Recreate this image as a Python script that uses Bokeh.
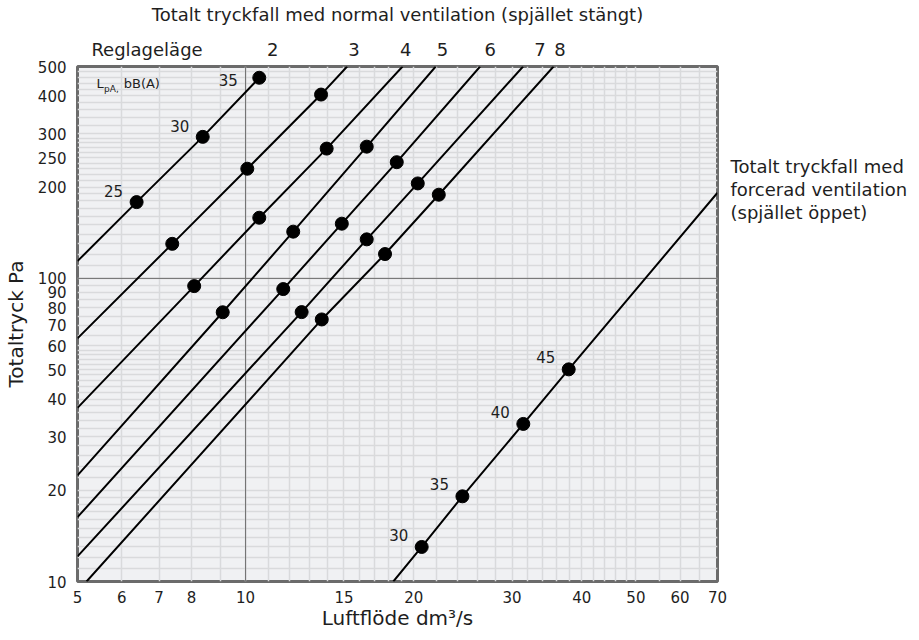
from bokeh.plotting import figure
from bokeh.models import LogAxis, FixedTicker, Span, Label, PrintfTickFormatter
from bokeh.core.properties import value
from bokeh.embed import file_html
from bokeh.resources import INLINE

FONT = "DejaVu Sans"
TXT = "#1e1e1e"

# ---------------- data ----------------
x_ticks = [5, 6, 7, 8, 10, 15, 20, 30, 40, 50, 60, 70]
y_ticks = [10, 20, 30, 40, 50, 60, 70, 80, 90, 100, 200, 250, 300, 400, 500]

settings = ["2", "3", "4", "5", "6", "7", "8"]
setting_label_flow = [11.18, 15.64, 19.35, 22.53, 27.41, 33.67, 36.56]
reglage_flow = 6.66

# normal ventilation lines (Reglageläge 2..8)
normal_start_flow = [5.0, 5.0, 5.0, 5.0, 5.0, 5.0, 5.19]
normal_start_pa = [114, 63.4, 37.4, 22.4, 16.3, 12.1, 10.0]
normal_end_flow = [10.58, 15.2, 19.1, 21.9, 26.3, 31.4, 35.6]
normal_end_pa = [459, 500, 500, 500, 500, 500, 500]
normal_dot_flow = [
    [6.38, 8.38, 10.58],
    [7.39, 10.07, 13.65],
    [8.09, 10.58, 13.97],
    [9.10, 12.17, 16.48],
    [11.68, 14.87, 18.65],
    [12.60, 16.48, 20.34],
    [13.69, 17.77, 22.18],
]
normal_dot_pa = [
    [178.5, 293, 459],
    [130, 230, 404],
    [94.3, 158.5, 268],
    [77.3, 142.6, 272],
    [92.2, 151.5, 241.7],
    [77.4, 134.5, 205.7],
    [73.2, 120.3, 188.8],
]
normal_db = ["25", "30", "35"]  # sound level labels on Reglageläge 2

# forced ventilation line
forced_start = (18.39, 10.0)
forced_end = (70.0, 191.7)
forced_flow = [20.67, 24.45, 31.43, 37.9]
forced_pa = [13.0, 19.1, 33.1, 50.1]
forced_db = ["30", "35", "40", "45"]

forced_note = ["Totalt tryckfall med", "forcerad ventilation", "(spjället öppet)"]
forced_note_pa = [234.6, 196.6, 165.1]

grid_x = list(range(5, 21)) + list(range(22, 51, 2)) + [55, 60, 65]
grid_y = (list(range(10, 21)) + list(range(22, 61, 2)) + list(range(65, 101, 5))
          + list(range(110, 301, 10)) + list(range(320, 501, 20)))

# ---------------- figure ----------------
p = figure(frame_width=640, frame_height=515, x_axis_type="log", y_axis_type="log",
           x_range=(5, 70), y_range=(10, 500),
           output_backend="svg", toolbar_location=None,
           min_border_left=69, min_border_right=190, min_border_top=59, min_border_bottom=50)
p.background_fill_color = "#f0f1f3"
p.border_fill_color = "white"
p.outline_line_color = "#6b6b6b"
p.outline_line_width = 3

p.xgrid.ticker = FixedTicker(ticks=grid_x)
p.ygrid.ticker = FixedTicker(ticks=grid_y)
for g in (p.xgrid, p.ygrid):
    g.grid_line_color = "#d9dadc"
    g.grid_line_width = 1.5

p.add_layout(Span(location=10, dimension="height", line_color="#6b6b6b", line_width=1, level="underlay"))
p.add_layout(Span(location=100, dimension="width", line_color="#6b6b6b", line_width=1, level="underlay"))

def style_axis(ax, size):
    ax.major_tick_line_color = None
    ax.minor_tick_line_color = None
    ax.major_tick_out = 0
    ax.major_tick_in = 0
    ax.minor_tick_out = 0
    ax.minor_tick_in = 0
    ax.axis_line_color = None
    ax.major_label_text_font = FONT
    ax.major_label_text_font_size = size
    ax.major_label_text_color = TXT
    ax.axis_label_text_font = FONT
    ax.axis_label_text_font_style = "normal"
    ax.axis_label_text_color = TXT

xa = p.xaxis[0]
xa.ticker = FixedTicker(ticks=x_ticks)
xa.formatter = PrintfTickFormatter(format="%d")
style_axis(xa, "15px")
xa.major_label_standoff = 9
xa.axis_label = "Luftflöde dm³/s"
xa.axis_label_text_font_size = "20px"
xa.axis_label_standoff = 0

ya = p.yaxis[0]
ya.ticker = FixedTicker(ticks=y_ticks)
ya.formatter = PrintfTickFormatter(format="%d")
style_axis(ya, "15px")
ya.major_label_standoff = 11
ya.axis_label = "Totaltryck Pa"
ya.axis_label_text_font_size = "20px"
ya.axis_label_standoff = 7

top_ticks = [reglage_flow] + setting_label_flow
top = LogAxis(ticker=FixedTicker(ticks=top_ticks),
              major_label_overrides={t: s for t, s in zip(top_ticks, ["Reglageläge"] + settings)},
              axis_label="Totalt tryckfall med normal ventilation (spjället stängt)")
style_axis(top, "18px")
top.axis_label_text_font_size = "18px"
top.major_label_standoff = 7
top.axis_label_standoff = 11
p.add_layout(top, "above")

# right-hand note about forced ventilation, placed as labels of a right axis
right = LogAxis(ticker=FixedTicker(ticks=forced_note_pa),
                major_label_overrides={t: s for t, s in zip(forced_note_pa, forced_note)})
style_axis(right, "18px")
right.major_label_standoff = 13
p.add_layout(right, "right")

# ---------------- lines & dots ----------------
for sf, sp, ef, ep, df, dp in zip(normal_start_flow, normal_start_pa, normal_end_flow,
                                  normal_end_pa, normal_dot_flow, normal_dot_pa):
    p.line([sf] + df + [ef], [sp] + dp + [ep], line_color="black", line_width=2)
    p.scatter(df, dp, size=13, color="black")

p.line([forced_start[0]] + forced_flow + [forced_end[0]],
       [forced_start[1]] + forced_pa + [forced_end[1]], line_color="black", line_width=2)
p.scatter(forced_flow, forced_pa, size=13, color="black")

lab = dict(text_font=value(FONT), text_font_size="15px", text_color=TXT,
           text_align="center", text_baseline="middle")
p.text(normal_dot_flow[0][:2], normal_dot_pa[0][:2], text=normal_db[:2], x_offset=-23, y_offset=-11, **lab)
p.text(normal_dot_flow[0][2:], normal_dot_pa[0][2:], text=normal_db[2:], x_offset=-31, y_offset=2, **lab)
p.text(forced_flow, forced_pa, text=forced_db, x_offset=-23, y_offset=-12, **lab)

# L_pA, dB(A) note
p.add_layout(Label(x=5.41, y=438, text="L", text_font=FONT, text_font_size="13px",
                   text_color=TXT, text_baseline="middle"))
p.add_layout(Label(x=5.58, y=420, text="pA,", text_font=FONT, text_font_size="9px",
                   text_color=TXT, text_baseline="middle"))
p.add_layout(Label(x=6.05, y=438, text="bB(A)", text_font=FONT, text_font_size="13px",
                   text_color=TXT, text_baseline="middle"))

open("out.html", "w").write(file_html(p, INLINE))
